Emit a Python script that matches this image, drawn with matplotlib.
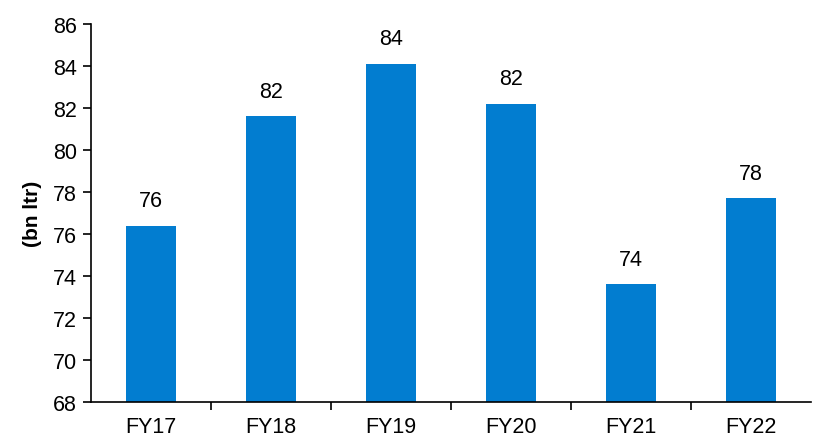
import matplotlib.pyplot as plt
import numpy as np

plt.rcParams['font.family'] = ['Liberation Sans', 'DejaVu Sans']

years = ["FY17", "FY18", "FY19", "FY20", "FY21", "FY22"]
volume = [76.4, 81.6, 84.1, 82.2, 73.6, 77.7]
labels = ["76", "82", "84", "82", "74", "78"]

fig = plt.figure(figsize=(8.22, 4.39), dpi=100)
ax = fig.add_axes([91 / 822, 36 / 439, 720 / 822, 378 / 439])

x = np.arange(len(years))
ax.bar(x, volume, width=0.41, color="#027DD0", zorder=2)
for xi, v, t in zip(x, volume, labels):
    ax.text(xi, v + 0.7, t, ha="center", va="bottom", fontsize=15.5)

ax.set_xlim(-0.5, len(years) - 0.5)
ax.set_ylim(68, 86)
ax.set_yticks(range(68, 87, 2))
ax.set_xticks(x)
ax.set_xticklabels(years)
ax.set_xticks(np.arange(0.5, len(years) - 0.5, 1), minor=True)
ax.tick_params(axis="x", which="major", length=0, labelsize=15.5, pad=10)
ax.tick_params(axis="x", which="minor", length=6, width=1.2, direction="out")
ax.tick_params(axis="y", length=6, width=1.2, labelsize=15.5, pad=4)
ax.set_ylabel("(bn ltr)", fontsize=15, fontweight="bold", labelpad=8)

for s in ["top", "right"]:
    ax.spines[s].set_visible(False)
for s in ["left", "bottom"]:
    ax.spines[s].set_linewidth(1.2)

fig.savefig("out.png", dpi=100)
